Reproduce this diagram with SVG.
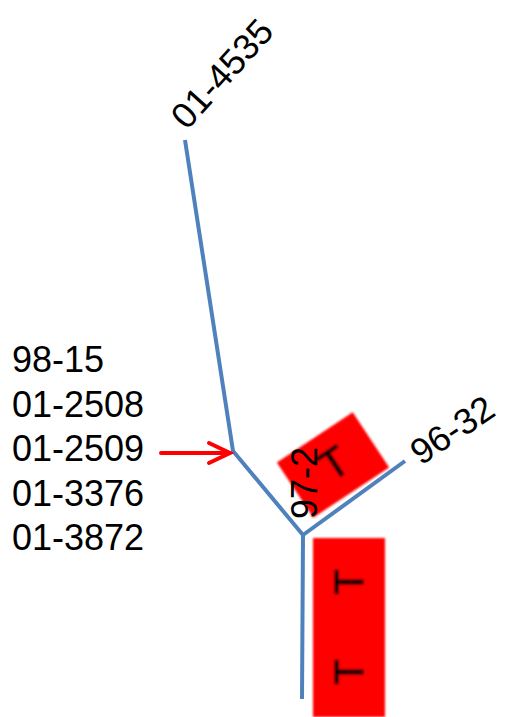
<svg xmlns="http://www.w3.org/2000/svg" width="506" height="717" viewBox="0 0 506 717">
<style>
.lbl{font-family:"Liberation Sans",Arial,sans-serif;font-size:36px;fill:#000}
.edge{fill:none;stroke:#4F81BD;stroke-width:4;stroke-linecap:butt;stroke-linejoin:miter}
.tag{fill:#FF0000}
.tt{font-family:"Liberation Sans",Arial,sans-serif;fill:#000;stroke:#000;stroke-width:1.2}
</style>
<defs>
<filter id="blur" x="-20%" y="-20%" width="140%" height="140%"><feGaussianBlur stdDeviation="0.9"/></filter>
</defs>
<rect width="506" height="717" fill="#fff"/>
<g id="connectors">
<polyline class="edge" points="185,140 233,451 303,535"/>
<line class="edge" x1="303" y1="535" x2="405" y2="461"/>
<line class="edge" x1="303" y1="535" x2="302" y2="699"/>
<g id="arrow" stroke="#FF0000" stroke-width="4" fill="none" stroke-linecap="round">
<line x1="161" y1="453" x2="229" y2="453"/>
<polyline points="209,443 230,453 209,463" stroke-linejoin="miter"/>
</g>
</g>
<g id="tag-97-2" filter="url(#blur)">
<rect class="tag" x="-45.5" y="-33" width="91" height="66" transform="translate(333,465) rotate(-33.5)"/>
<text class="tt" font-size="42" text-anchor="middle" transform="translate(334,463) rotate(-33.5)" y="15">T</text>
</g>
<g id="tag-main" filter="url(#blur)">
<rect class="tag" x="313" y="538" width="72" height="179"/>
<text class="tt" font-size="41" text-anchor="middle" transform="translate(348,582) rotate(-90)" y="14.5">T</text>
<text class="tt" font-size="41" text-anchor="middle" transform="translate(348,672) rotate(-90)" y="14.5">T</text>
</g>
<g id="node-01-4535"><text class="lbl" font-size="38" transform="translate(187,131) rotate(-48)">01-4535</text></g>
<g id="node-96-32"><text class="lbl" transform="translate(421,466) rotate(-34)">96-32</text></g>
<g id="node-97-2"><text class="lbl" transform="translate(317,519) rotate(-90)">97-2</text></g>
<g id="node-list">
<text class="lbl" x="12" y="372">98-15</text>
<text class="lbl" x="12" y="416.5">01-2508</text>
<text class="lbl" x="12" y="461">01-2509</text>
<text class="lbl" x="12" y="506">01-3376</text>
<text class="lbl" x="12" y="550">01-3872</text>
</g>
</svg>
